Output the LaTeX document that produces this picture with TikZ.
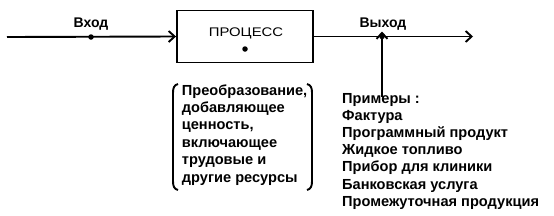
\documentclass[tikz,border=0pt]{standalone}
\usepackage{fontspec}
\setmainfont{Liberation Sans}
\usetikzlibrary{arrows.meta}
\begin{document}
\begin{tikzpicture}[x=1pt,y=-1pt,
  flow/.style={line width=1.9pt,-{Straight Barb[length=6pt,width=11pt,line width=1.9pt]}},
  dotc/.style={circle,fill=black,inner sep=0pt,minimum size=5.5pt},
  lbl/.style={font=\bfseries\fontsize{14}{16}\selectfont,inner sep=0pt},
  brk/.style={line width=1.9pt},
  lines/.style={font=\bfseries\fontsize{14.6}{17.4}\selectfont,align=left,inner sep=0pt,anchor=base west}]
\useasboundingbox (0,0) rectangle (554,215);
\coordinate (start) at (7,37);
\node[draw,line width=1.9pt,minimum width=136pt,minimum height=52pt,inner sep=0pt] (proc) at (245,36.5) {};
\node[font=\fontsize{12.5}{14}\selectfont,inner sep=0pt,anchor=base] (ptext) at (246,36.5) {\scalebox{1.19}[1]{ПРОЦЕСС}};
\node[dotc] (pdot) at (245,49) {};
\node[dotc] (indot) at (91,37) {};
\node[lbl,anchor=base] (inlbl) at (91,27.3) {Вход};
\coordinate (outend) at (473,36.5);
\node[dotc] (outdot) at (382,36.5) {};
\node[lbl,anchor=base] (outlbl) at (383,27.3) {Выход};
\coordinate (exbot) at (382,97);
\draw[flow] (start) -- (proc.west);
\draw[flow] (proc.east) -- (outend);
\draw[flow] (exbot) -- ([yshift=5pt]outdot.center);
\node[lines] (trans) at (181.7,182) {Преобразование,\\добавляющее\\ценность,\\включающее\\трудовые и\\другие ресурсы};
\coordinate (lb1) at (178,84);
\coordinate (lb2) at (178,190);
\draw[brk] (lb1) .. controls (174,85) and (173,88) .. (173,93) -- (173,181) .. controls (173,186) and (174,189) .. (lb2);
\coordinate (rb1) at (307,84);
\coordinate (rb2) at (307,190);
\draw[brk] (rb1) .. controls (311,85) and (312,88) .. (312,93) -- (312,181) .. controls (312,186) and (311,189) .. (rb2);
\node[lines,font=\bfseries\fontsize{14.6}{17.2}\selectfont] (ex) at (342,206.2) {Примеры :\\Фактура\\Программный продукт\\Жидкое топливо\\Прибор для клиники\\Банковская услуга\\Промежуточная продукция};
\end{tikzpicture}
\end{document}
